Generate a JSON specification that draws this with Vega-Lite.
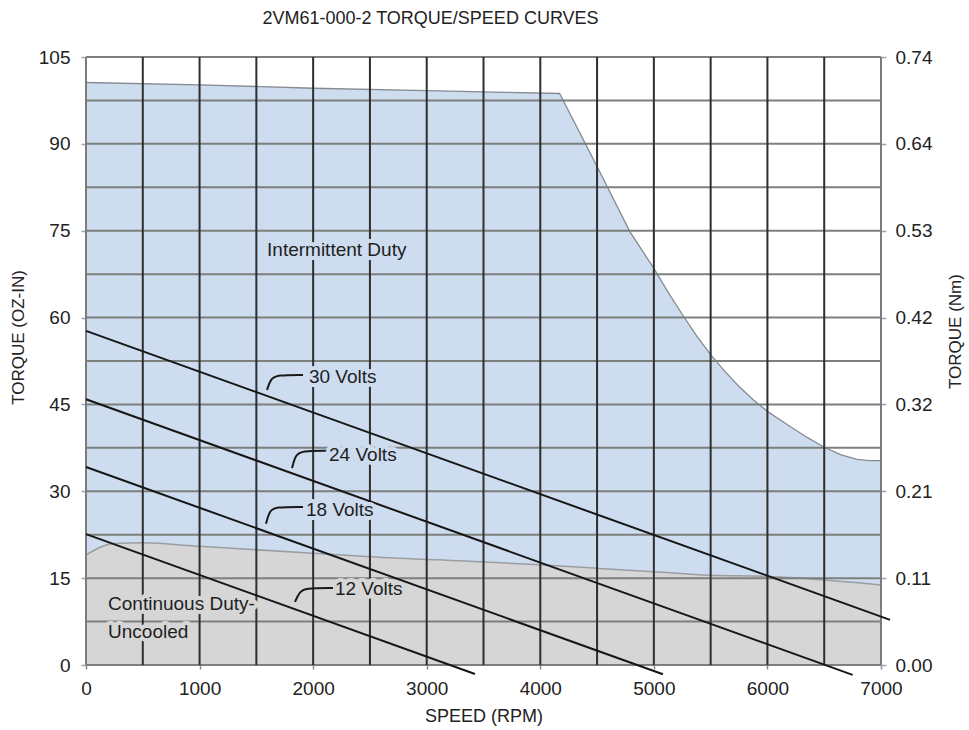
{
  "$schema": "https://vega.github.io/schema/vega-lite/v6.json",
  "width": 795,
  "height": 608,
  "autosize": "none",
  "padding": {"left": 86, "top": 57, "right": 88, "bottom": 65},
  "background": "white",
  "config": {"view": {"stroke": null}, "font": "Liberation Sans"},
  "title": {
    "text": "2VM61-000-2 TORQUE/SPEED CURVES",
    "font": "Liberation Sans",
    "fontSize": 18,
    "fontWeight": "normal",
    "color": "#222222",
    "anchor": "middle",
    "dx": -53,
    "offset": 20
  },
  "datasets": {
    "intermittent": [
      {"rpm": 0, "torque": 100.6}, {"rpm": 1000, "torque": 100.2}, {"rpm": 2000, "torque": 99.6},
      {"rpm": 3000, "torque": 99.2}, {"rpm": 3700, "torque": 98.9}, {"rpm": 4170, "torque": 98.7},
      {"rpm": 4500, "torque": 86.1}, {"rpm": 4790, "torque": 74.8}, {"rpm": 5000, "torque": 68.5},
      {"rpm": 5125, "torque": 64.4}, {"rpm": 5245, "torque": 60.7}, {"rpm": 5375, "torque": 56.9},
      {"rpm": 5500, "torque": 53.6}, {"rpm": 5625, "torque": 50.7}, {"rpm": 5750, "torque": 48.1},
      {"rpm": 5875, "torque": 45.8}, {"rpm": 6000, "torque": 43.8}, {"rpm": 6200, "torque": 41.2},
      {"rpm": 6350, "torque": 39.3}, {"rpm": 6500, "torque": 37.6}, {"rpm": 6650, "torque": 36.3},
      {"rpm": 6790, "torque": 35.5}, {"rpm": 6900, "torque": 35.3}, {"rpm": 7000, "torque": 35.3}
    ],
    "continuous": [
      {"rpm": 0, "torque": 19.0}, {"rpm": 250, "torque": 21.0}, {"rpm": 500, "torque": 21.1},
      {"rpm": 1000, "torque": 20.5}, {"rpm": 2000, "torque": 19.3}, {"rpm": 2500, "torque": 18.7},
      {"rpm": 3500, "torque": 17.8}, {"rpm": 4000, "torque": 17.3}, {"rpm": 4500, "torque": 16.7},
      {"rpm": 5000, "torque": 16.1}, {"rpm": 5500, "torque": 15.5}, {"rpm": 6000, "torque": 15.3},
      {"rpm": 6500, "torque": 14.7}, {"rpm": 6800, "torque": 14.2}, {"rpm": 7000, "torque": 13.8}
    ],
    "volts": [
      {"supply": "30 Volts", "rpm": 0, "torque": 57.7}, {"supply": "30 Volts", "rpm": 7080, "torque": 7.8},
      {"supply": "24 Volts", "rpm": 0, "torque": 45.9}, {"supply": "24 Volts", "rpm": 6750, "torque": -1.7},
      {"supply": "18 Volts", "rpm": 0, "torque": 34.2}, {"supply": "18 Volts", "rpm": 5080, "torque": -1.6},
      {"supply": "12 Volts", "rpm": 0, "torque": 22.6}, {"supply": "12 Volts", "rpm": 3425, "torque": -1.55}
    ],
    "leaders": [
      {"supply": "30 Volts", "step": 1, "rpm": 1911, "torque": 50.1},
      {"supply": "30 Volts", "step": 2, "rpm": 1682, "torque": 50.1},
      {"supply": "30 Volts", "step": 3, "rpm": 1625, "torque": 49.4},
      {"supply": "30 Volts", "step": 4, "rpm": 1594, "torque": 47.5},
      {"supply": "24 Volts", "step": 1, "rpm": 2122, "torque": 37.0},
      {"supply": "24 Volts", "step": 2, "rpm": 1902, "torque": 37.0},
      {"supply": "24 Volts", "step": 3, "rpm": 1845, "torque": 36.3},
      {"supply": "24 Volts", "step": 4, "rpm": 1814, "torque": 34.0},
      {"supply": "18 Volts", "step": 1, "rpm": 1911, "torque": 27.3},
      {"supply": "18 Volts", "step": 2, "rpm": 1664, "torque": 27.3},
      {"supply": "18 Volts", "step": 3, "rpm": 1615, "torque": 26.6},
      {"supply": "18 Volts", "step": 4, "rpm": 1585, "torque": 24.4},
      {"supply": "12 Volts", "step": 1, "rpm": 2175, "torque": 13.3},
      {"supply": "12 Volts", "step": 2, "rpm": 1928, "torque": 13.3},
      {"supply": "12 Volts", "step": 3, "rpm": 1880, "torque": 12.6},
      {"supply": "12 Volts", "step": 4, "rpm": 1840, "torque": 10.9}
    ],
    "notes": [
      {"note": "Intermittent Duty", "zone": "intermittent", "rpm": 1594, "torque": 71.6},
      {"note": "30 Volts", "zone": "intermittent", "rpm": 1963, "torque": 49.7},
      {"note": "24 Volts", "zone": "intermittent", "rpm": 2140, "torque": 36.3},
      {"note": "18 Volts", "zone": "intermittent", "rpm": 1937, "torque": 26.8},
      {"note": "12 Volts", "zone": "continuous", "rpm": 2192, "torque": 13.1},
      {"note": "Continuous Duty-", "zone": "continuous", "rpm": 194, "torque": 10.5},
      {"note": "Uncooled", "zone": "continuous", "rpm": 194, "torque": 5.7}
    ],
    "speedGrid": [
      {"rpm": 0}, {"rpm": 500}, {"rpm": 1000}, {"rpm": 1500}, {"rpm": 2000}, {"rpm": 2500},
      {"rpm": 3000}, {"rpm": 3500}, {"rpm": 4000}, {"rpm": 4500}, {"rpm": 5000}, {"rpm": 5500},
      {"rpm": 6000}, {"rpm": 6500}, {"rpm": 7000}
    ],
    "torqueGrid": [
      {"torque": 0}, {"torque": 7.5}, {"torque": 15}, {"torque": 22.5}, {"torque": 30},
      {"torque": 37.5}, {"torque": 45}, {"torque": 52.5}, {"torque": 60}, {"torque": 67.5},
      {"torque": 75}, {"torque": 82.5}, {"torque": 90}, {"torque": 97.5}, {"torque": 105}
    ]
  },
  "resolve": {"axis": {"x": "independent", "y": "independent"}},
  "layer": [
    {
      "data": {"name": "intermittent"},
      "mark": {"type": "area", "color": "#cddcee"},
      "encoding": {
        "x": {
          "field": "rpm", "type": "quantitative",
          "scale": {"domain": [0, 7000], "nice": false, "zero": false},
          "axis": {
            "orient": "bottom",
            "values": [0, 1000, 2000, 3000, 4000, 5000, 6000, 7000],
            "format": "d", "labelFlush": false, "labelOverlap": false,
            "domain": false, "grid": false,
            "tickSize": 4, "tickColor": "#8a8a8a", "tickWidth": 1.5,
            "labelFontSize": 19, "labelColor": "#222222", "labelPadding": 10,
            "labelFont": "Liberation Sans",
            "title": "SPEED (RPM)", "titleFont": "Liberation Sans", "titleFontSize": 18,
            "titleFontWeight": "normal", "titleColor": "#222222",
            "titleY": 51, "titleBaseline": "middle"
          }
        },
        "y": {
          "field": "torque", "type": "quantitative",
          "scale": {"domain": [0, 105], "nice": false, "zero": false},
          "axis": {
            "orient": "left",
            "values": [0, 15, 30, 45, 60, 75, 90, 105],
            "labelFlush": false, "labelOverlap": false,
            "domain": false, "grid": false,
            "tickSize": 5, "tickColor": "#9aa6b4", "tickWidth": 1.5,
            "labelFontSize": 19, "labelColor": "#222222", "labelPadding": 11,
            "labelFont": "Liberation Sans",
            "title": "TORQUE (OZ-IN)", "titleFont": "Liberation Sans", "titleFontSize": 17,
            "titleFontWeight": "normal", "titleColor": "#222222",
            "titleX": -68, "titleY": 280, "titleBaseline": "middle"
          }
        }
      }
    },
    {
      "data": {"name": "continuous"},
      "mark": {"type": "area", "color": "#d6d6d6", "interpolate": "monotone"},
      "encoding": {
        "x": {"field": "rpm", "type": "quantitative", "axis": null},
        "y": {
          "field": "torque", "type": "quantitative",
          "axis": {
            "orient": "right",
            "values": [0, 15, 30, 45, 60, 75, 90, 105],
            "labelExpr": "format(datum.value * 0.007062, '.2f')",
            "labelFlush": false, "labelOverlap": false,
            "domain": false, "grid": false,
            "tickSize": 5, "tickColor": "#9aa6b4", "tickWidth": 1.5,
            "labelFontSize": 19, "labelColor": "#222222", "labelPadding": 9,
            "labelFont": "Liberation Sans",
            "title": "TORQUE (Nm)", "titleFont": "Liberation Sans", "titleFontSize": 17,
            "titleFontWeight": "normal", "titleColor": "#222222", "titleAngle": 270,
            "titleX": 74, "titleY": 274, "titleBaseline": "middle"
          }
        }
      }
    },
    {
      "data": {"name": "intermittent"},
      "mark": {"type": "line", "color": "#858b92", "strokeWidth": 1.3},
      "encoding": {
        "x": {"field": "rpm", "type": "quantitative", "axis": null},
        "y": {"field": "torque", "type": "quantitative", "axis": null}
      }
    },
    {
      "data": {"name": "continuous"},
      "mark": {"type": "line", "color": "#9a9ea3", "strokeWidth": 1.5, "interpolate": "monotone"},
      "encoding": {
        "x": {"field": "rpm", "type": "quantitative", "axis": null},
        "y": {"field": "torque", "type": "quantitative", "axis": null}
      }
    },
    {
      "data": {"name": "torqueGrid"},
      "mark": {"type": "rule", "strokeWidth": 2, "color": "#7c807c"},
      "encoding": {
        "y": {"field": "torque", "type": "quantitative", "axis": null}
      }
    },
    {
      "data": {"name": "speedGrid"},
      "mark": {"type": "rule", "strokeWidth": 2},
      "encoding": {
        "x": {"field": "rpm", "type": "quantitative", "axis": null},
        "color": {
          "condition": {"test": "datum.rpm == 0 || datum.rpm == 7000", "value": "#7c7c7c"},
          "value": "#2e2e2e"
        }
      }
    },
    {
      "data": {"name": "volts"},
      "mark": {"type": "line", "color": "#161616", "strokeWidth": 2},
      "encoding": {
        "x": {"field": "rpm", "type": "quantitative", "axis": null},
        "y": {"field": "torque", "type": "quantitative", "axis": null},
        "detail": {"field": "supply"}
      }
    },
    {
      "data": {"name": "leaders"},
      "mark": {"type": "line", "color": "#1a1a1a", "strokeWidth": 2, "interpolate": "basis"},
      "encoding": {
        "x": {"field": "rpm", "type": "quantitative", "axis": null},
        "y": {"field": "torque", "type": "quantitative", "axis": null},
        "detail": {"field": "supply"},
        "order": {"field": "step"}
      }
    },
    {
      "data": {"name": "notes"},
      "mark": {"type": "text", "align": "left", "baseline": "middle", "fontSize": 19, "font": "Liberation Sans", "strokeWidth": 8, "strokeJoin": "round"},
      "encoding": {
        "x": {"field": "rpm", "type": "quantitative", "axis": null},
        "y": {"field": "torque", "type": "quantitative", "axis": null},
        "text": {"field": "note"},
        "color": {"field": "zone", "type": "nominal", "legend": null,
          "scale": {"domain": ["intermittent", "continuous"], "range": ["#cddcee", "#d6d6d6"]}},
        "stroke": {"field": "zone", "type": "nominal", "legend": null,
          "scale": {"domain": ["intermittent", "continuous"], "range": ["#cddcee", "#d6d6d6"]}}
      }
    },
    {
      "data": {"name": "notes"},
      "mark": {"type": "text", "align": "left", "baseline": "middle", "fontSize": 19, "font": "Liberation Sans", "color": "#1e1e1e"},
      "encoding": {
        "x": {"field": "rpm", "type": "quantitative", "axis": null},
        "y": {"field": "torque", "type": "quantitative", "axis": null},
        "text": {"field": "note"}
      }
    }
  ]
}
